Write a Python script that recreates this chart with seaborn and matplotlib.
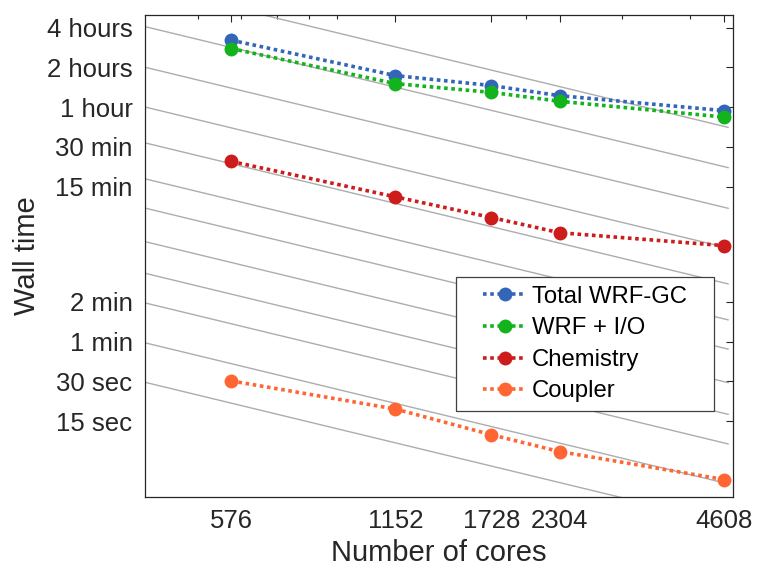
import matplotlib
matplotlib.use("Agg")
import matplotlib.pyplot as plt
import matplotlib.ticker as mticker
from matplotlib.patches import Rectangle
import pandas as pd
import seaborn as sns

# Data (wall time in seconds)
cores = [576, 1152, 1728, 2304, 4608]
total_wrfgc = [11590, 6250, 5250, 4400, 3390]
wrf_io = [10020, 5430, 4660, 3990, 3030]
chemistry = [1395, 752, 524, 402, 321]
coupler = [30.2, 18.5, 11.8, 8.8, 5.4]

series_names = ["Total WRF-GC", "WRF + I/O", "Chemistry", "Coupler"]
series_colors = ["#3366B8", "#12B31C", "#CC1C1C", "#FF6633"]

# Ideal-scaling guide lines: wall time at 400 cores
ideal_at_400 = [29700, 14700, 7230, 3610, 1930, 1030, 618, 344, 198, 118, 58.8, 29.5]
ideal_x = [400, 4700]

# Y tick positions (seconds) and labels
ytick_vals = [14400, 7200, 3600, 1800, 900, 120, 60, 30, 15]
ytick_labels = ["4 hours", "2 hours", "1 hour", "30 min", "15 min",
                "2 min", "1 min", "30 sec", "15 sec"]
xminor = [500, 600, 700, 800, 900, 2000, 3000, 4000]

df = pd.DataFrame({
    "cores": cores * 4,
    "seconds": total_wrfgc + wrf_io + chemistry + coupler,
    "component": sum([[n] * len(cores) for n in series_names], []),
})

sns.set_style("white")
plt.rcParams["font.family"] = ["Liberation Sans", "DejaVu Sans"]

W, H = 757, 572
ax_l, ax_r, ax_t, ax_b = 145, 733.3, 15, 496.7
fig = plt.figure(figsize=(W / 100, H / 100), dpi=100)
ax = fig.add_axes([ax_l / W, 1 - ax_b / H, (ax_r - ax_l) / W, (ax_b - ax_t) / H])

# guide lines
for v in ideal_at_400:
    ys = [v * ideal_x[0] / x for x in ideal_x]
    ax.plot(ideal_x, ys, color="#ADADAD", linewidth=1.0, zorder=1)

for name, color in zip(series_names, series_colors):
    sub = df[df["component"] == name]
    sns.lineplot(data=sub, x="cores", y="seconds", ax=ax, color=color,
                 label=name, marker="o", markersize=10, markeredgewidth=0,
                 linestyle=(0, (1, 1)), linewidth=2.6, zorder=3)

ax.set_xscale("log")
ax.set_yscale("log")
ax.set_xlim(400, 4800)
ax.set_ylim(4, 18000)

ax.xaxis.set_major_locator(mticker.FixedLocator(cores))
ax.xaxis.set_major_formatter(mticker.FixedFormatter([str(c) for c in cores]))
ax.xaxis.set_minor_locator(mticker.FixedLocator(xminor))
ax.xaxis.set_minor_formatter(mticker.NullFormatter())
ax.yaxis.set_major_locator(mticker.FixedLocator(ytick_vals))
ax.yaxis.set_major_formatter(mticker.FixedFormatter(ytick_labels))
ax.yaxis.set_minor_locator(mticker.NullLocator())

ax.tick_params(which="both", direction="in", top=True, right=True,
               color="#262626", labelcolor="#262626", labelsize=18.5)
ax.tick_params(which="major", length=5, width=0.8, pad=9)
ax.tick_params(which="minor", length=3, width=0.8)
for s in ax.spines.values():
    s.set_color("#262626")
    s.set_linewidth(0.9)

ax.set_xlabel("Number of cores", fontsize=21, color="#262626", labelpad=4)
ax.set_ylabel("Wall time", fontsize=21, color="#262626", labelpad=4)

# legend box (pixel extents from the reference)
bx0, bx1, by0, by1 = 456, 714, 277.3, 411
fx0 = (bx0 - ax_l) / (ax_r - ax_l)
fx1 = (bx1 - ax_l) / (ax_r - ax_l)
fy0 = (ax_b - by1) / (ax_b - ax_t)
fy1 = (ax_b - by0) / (ax_b - ax_t)
ax.add_patch(Rectangle((fx0, fy0), fx1 - fx0, fy1 - fy0, transform=ax.transAxes,
                       facecolor="white", edgecolor="#404040", linewidth=0.9,
                       zorder=5))
leg = ax.legend(loc="center", bbox_to_anchor=((fx0 + fx1) / 2, (fy0 + fy1) / 2),
                borderaxespad=0, borderpad=0, fontsize=17.2, frameon=False,
                handlelength=1.8, handletextpad=0.22, labelspacing=0.4)
leg.set_zorder(6)
for t in leg.get_texts():
    t.set_color("#000000")

fig.savefig("out.png", dpi=100)
